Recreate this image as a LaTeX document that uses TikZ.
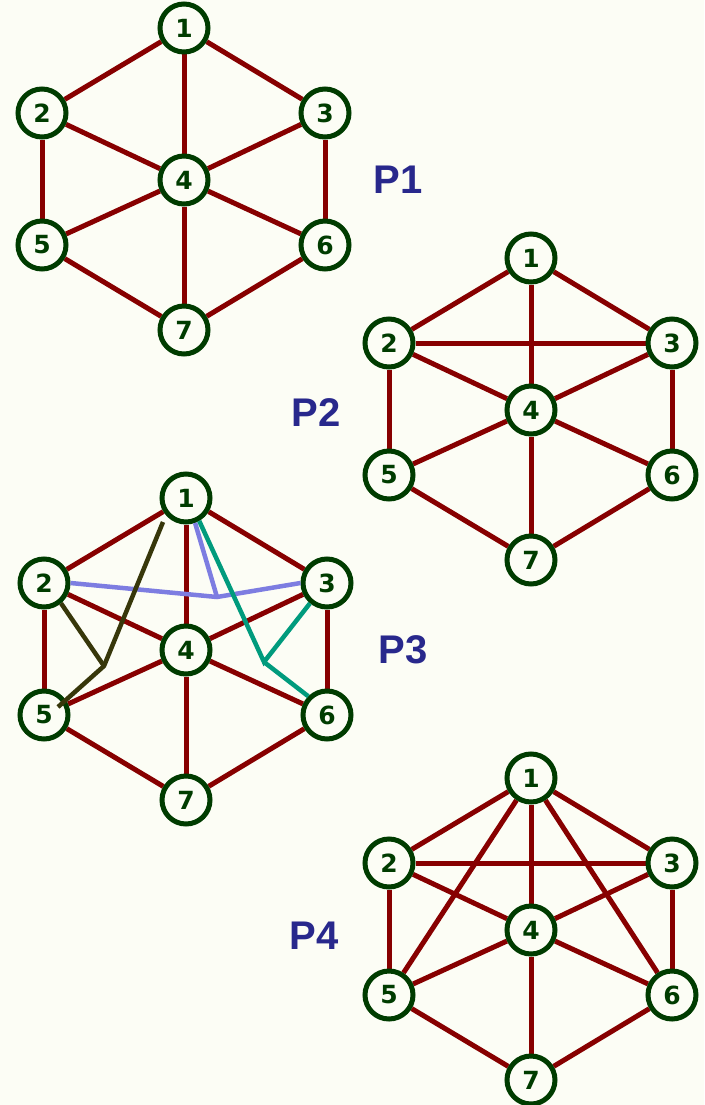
\documentclass[tikz,border=0pt]{standalone}
\usepackage{fontspec}
\setmainfont{Liberation Sans}
\newfontfamily\numfont{DejaVu Sans}
\usetikzlibrary{backgrounds}
\definecolor{bgc}{RGB}{252,253,245}
\definecolor{edgec}{RGB}{135,0,0}
\definecolor{nodec}{RGB}{0,60,0}
\definecolor{labc}{RGB}{40,40,140}
\definecolor{bluec}{RGB}{125,125,225}
\definecolor{olivec}{RGB}{55,55,10}
\definecolor{tealc}{RGB}{0,155,125}
\tikzset{
  vtx/.style={circle, draw=nodec, line width=5pt, fill=bgc, minimum size=48pt, inner sep=0pt,
    font=\numfont\bfseries\fontsize{25}{25}\selectfont, text=nodec},
  edg/.style={draw=edgec, line width=5pt},
  plab/.style={font=\bfseries\fontsize{40}{40}\selectfont, text=labc},
  extra/.style={line width=4.5pt, line join=miter},
}
\newcommand{\graphnodes}[3]{%
  \begin{scope}[shift={(#1,#2)}]
    \node[vtx] (#3-1) at (184,28) {1};
    \node[vtx] (#3-2) at (42,113) {2};
    \node[vtx] (#3-3) at (325,113) {3};
    \node[vtx] (#3-4) at (184,180) {4};
    \node[vtx] (#3-5) at (42,245) {5};
    \node[vtx] (#3-6) at (325,245) {6};
    \node[vtx] (#3-7) at (184,330) {7};
  \end{scope}}
\newcommand{\graphedges}[1]{%
  \begin{scope}[on background layer]
  \foreach \a/\b in {1/2,1/3,1/4,2/4,3/4,2/5,3/6,4/5,4/6,4/7,5/7,6/7}
    {\path[edg] (#1-\a) -- (#1-\b);}
  \end{scope}}
\begin{document}
\begin{tikzpicture}[x=1pt,y=-1pt]
\begin{scope}[on background layer]
\fill[bgc] (0,0) rectangle (704,1105);
\end{scope}
\useasboundingbox (0,0) rectangle (704,1105);
% P1
\graphnodes{0}{0}{a}
\graphedges{a}
\node[plab] (la) at (398,180) {P1};
% P2
\graphnodes{347}{230}{b}
\graphedges{b}
\begin{scope}[on background layer]\path[edg] (b-2) -- (b-3);\end{scope}
\node[plab] (lb) at (316,413) {P2};
% P3
\graphnodes{2}{470}{c}
\graphedges{c}
\coordinate (bm) at (217,597);
\coordinate (om) at (104,666);
\coordinate (otop) at (163,522);
\coordinate (obot) at (58,707);
\coordinate (tm) at (264,662);
\draw[extra, bluec] (c-2.east) -- (bm) -- (c-3.west);
\draw[extra, bluec] (c-1.-70) -- (bm);
\draw[extra, olivec] (otop) -- (om) -- (obot);
\draw[extra, olivec] (c-2.-50) -- (om);
\draw[extra, tealc] (c-1.-60) -- (tm) -- (c-3.-130);
\draw[extra, tealc] (tm) -- (c-6.135);
\node[plab] (lc) at (403,650) {P3};
% P4
\graphnodes{347}{750}{d}
\graphedges{d}
\begin{scope}[on background layer]
\path[edg] (d-2) -- (d-3);
\path[edg] (d-1) -- (d-5);
\path[edg] (d-1) -- (d-6);
\end{scope}
\node[plab] (ld) at (314,936) {P4};
\end{tikzpicture}
\end{document}
